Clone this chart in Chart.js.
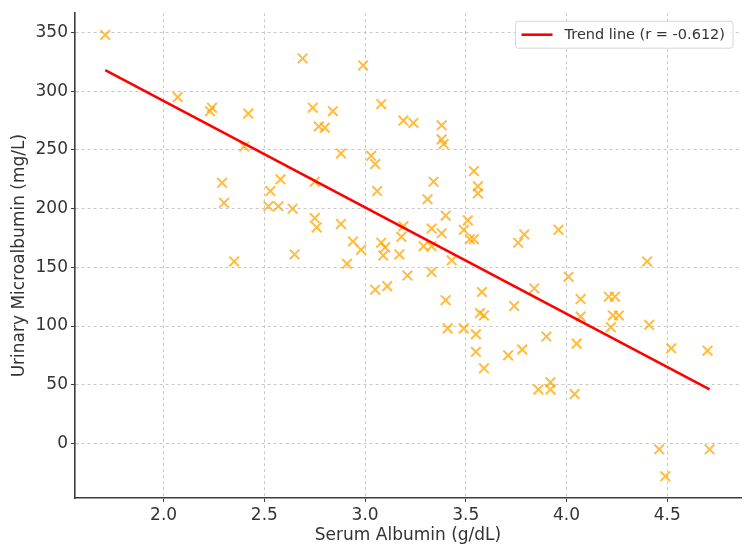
<!DOCTYPE html>
<html>
<head>
<meta charset="utf-8">
<script src="https://cdn.jsdelivr.net/npm/chart.js@4.4.0/dist/chart.umd.min.js"></script>
<style>
  body { margin: 0; background: #fff; }
  #chart { display: block; }
</style>
</head>
<body>
<canvas id="chart" width="750" height="555"></canvas>
<script>
// values
const albumin = [
  1.71, 2.07, 2.23, 2.24, 2.42, 2.40, 2.29, 2.30, 2.35, 2.53,
  2.58, 2.52, 2.57, 2.64, 2.65, 2.69, 2.99, 2.74, 2.84, 2.77,
  2.80, 3.08, 3.19, 3.24, 3.38, 3.38, 3.39, 2.88, 3.03, 3.05,
  2.75, 3.06, 3.34, 3.31, 2.75, 2.76, 2.88, 3.40, 3.19, 3.33,
  3.38, 2.94, 2.98, 3.08, 3.10, 3.09, 3.18, 3.17, 3.29, 3.33,
  2.91, 3.43, 3.33, 3.21, 3.05, 3.11, 3.40, 3.54, 3.56, 3.56,
  3.51, 3.49, 3.52, 3.54, 3.79, 3.76, 3.96, 4.01, 3.84, 3.58,
  3.74, 4.07, 4.21, 4.24, 4.07, 4.23, 4.26, 4.22, 3.57, 3.59,
  3.41, 3.49, 3.55, 3.55, 3.59, 3.71, 3.78, 3.90, 4.05, 3.86,
  3.92, 3.92, 4.04, 4.40, 4.41, 4.52, 4.70, 4.46, 4.71, 4.49
]
const microalbumin = [
  348, 295, 283, 286, 281, 253, 222, 205, 155, 215,
  225, 202, 202, 200, 161, 328, 322, 286, 283, 270,
  269, 289, 275, 273, 271, 259, 255, 247, 245, 238,
  223, 215, 223, 208, 192, 184, 187, 194, 185, 183,
  179, 172, 165, 171, 167, 160, 176, 161, 168, 168,
  153, 156, 146, 143, 131, 134, 122, 232, 219, 213,
  190, 182, 174, 174, 178, 171, 182, 142, 132, 129,
  117, 123, 125, 125, 108, 109, 109, 99, 111, 109,
  98, 98, 93, 78, 64, 75, 80, 91, 85, 46,
  46, 52, 42, 155, 101, 81, 79, -5, -5, -28
]
const trendX = [1.71, 4.71]
const trendY = [318, 46]
const trendLabel = 'Trend line (r = -0.612)'
const xTicks = [2.0, 2.5, 3.0, 3.5, 4.0, 4.5]
const yTicks = [0, 50, 100, 150, 200, 250, 300, 350]

const FONT = '"DejaVu Sans", sans-serif'
const TEXT = '#333333'
const GRID = '#c8c8c8'
const SPINE = '#3d3d3d'

const scatterPoints = albumin.map((x, i) => ({x: x, y: microalbumin[i]}))
const trendPoints = trendX.map((x, i) => ({x: x, y: trendY[i]}))

// matplotlib style legend box in the top right corner of the plot
const boxLegend = {
    id: 'boxLegend',
    afterDatasetsDraw(chart) {
        const ctx = chart.ctx
        const area = chart.chartArea
        const ds = chart.data.datasets[0]
        ctx.save()
        ctx.font = '14.5px ' + FONT
        const textW = ctx.measureText(ds.label).width
        const w = textW + 57
        const h = 27
        const x = area.right - 8 - w
        const y = area.top + 8
        ctx.beginPath()
        ctx.roundRect(x, y, w, h, 3)
        ctx.fillStyle = 'rgba(255,255,255,0.85)'
        ctx.fill()
        ctx.strokeStyle = '#d6d6d6'
        ctx.lineWidth = 1
        ctx.stroke()
        ctx.beginPath()
        ctx.moveTo(x + 6, y + h / 2)
        ctx.lineTo(x + 37, y + h / 2)
        ctx.strokeStyle = ds.borderColor
        ctx.lineWidth = ds.borderWidth
        ctx.stroke()
        ctx.fillStyle = TEXT
        ctx.textBaseline = 'middle'
        ctx.fillText(ds.label, x + 49, y + h / 2 + 1)
        ctx.restore()
    }
}

new Chart(document.getElementById('chart'), {
    type: 'scatter',
    data: {
        datasets: [
            {
                label: trendLabel,
                data: trendPoints,
                showLine: true,
                borderColor: '#ff0000',
                borderWidth: 2.6,
                pointRadius: 0,
            },
            {
                label: 'data',
                data: scatterPoints,
                pointStyle: 'crossRot',
                pointRadius: 6.8,
                borderWidth: 2,
                borderColor: 'rgba(255,165,0,0.75)',
                backgroundColor: 'rgba(255,165,0,0.75)',
            },
        ],
    },
    options: {
        responsive: false,
        animation: false,
        layout: {padding: {top: 2, right: 9, left: 0, bottom: 0}},
        scales: {
            x: {
                type: 'linear',
                min: 1.56,
                max: 4.866,
                afterFit: (scale) => { scale.height = 57 },
                afterBuildTicks: (scale) => { scale.ticks = xTicks.map(v => ({value: v})) },
                ticks: {
                    callback: (v) => Number(v).toFixed(1),
                    color: TEXT,
                    font: {family: FONT, size: 17},
                    padding: 3,
                    maxRotation: 0,
                },
                grid: {
                    color: GRID,
                    tickLength: 4,
                    tickColor: SPINE,
                    tickBorderDash: [],
                },
                border: {display: true, color: SPINE, width: 1.6, dash: [3, 3]},
                title: {
                    display: true,
                    text: 'Serum Albumin (g/dL)',
                    color: TEXT,
                    font: {family: FONT, size: 17},
                    padding: {top: 0, bottom: 9},
                },
            },
            y: {
                type: 'linear',
                min: -46.5,
                max: 366.5,
                afterFit: (scale) => { scale.width = 75 },
                afterBuildTicks: (scale) => { scale.ticks = yTicks.map(v => ({value: v})) },
                ticks: {
                    color: TEXT,
                    font: {family: FONT, size: 17},
                    padding: 3,
                },
                grid: {
                    color: GRID,
                    tickLength: 4,
                    tickColor: SPINE,
                    tickBorderDash: [],
                },
                border: {display: true, color: SPINE, width: 1.6, dash: [3, 3]},
                title: {
                    display: true,
                    text: 'Urinary Microalbumin (mg/L)',
                    color: TEXT,
                    font: {family: FONT, size: 17},
                    padding: {top: 9, bottom: 0},
                },
            },
        },
        plugins: {
            legend: {display: false},
            tooltip: {enabled: false},
        },
    },
    plugins: [boxLegend],
})
</script>
</body>
</html>
